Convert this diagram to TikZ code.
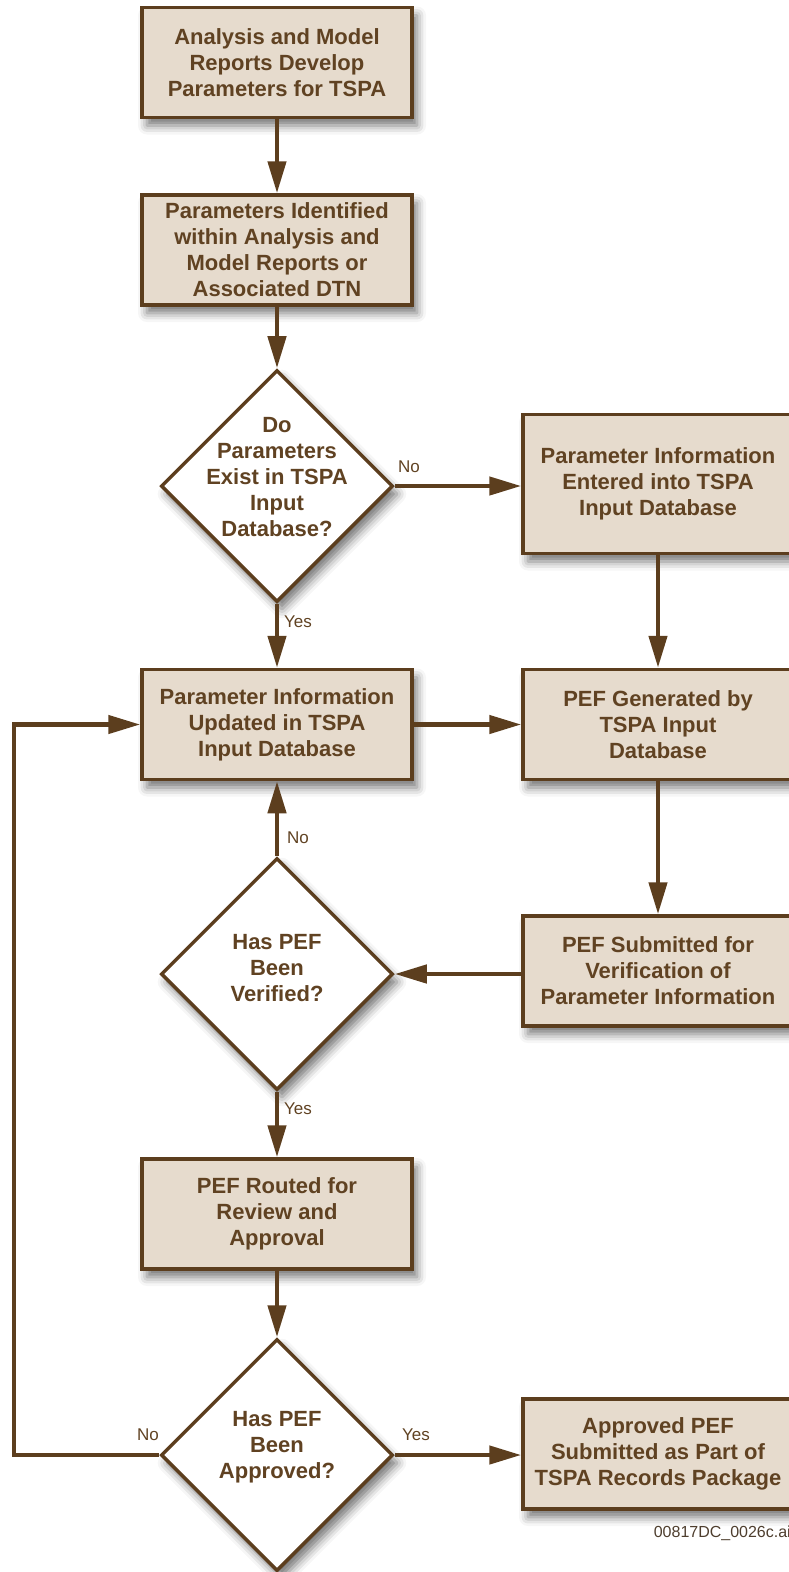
\documentclass[tikz,border=0pt]{standalone}
\usepackage{fontspec}
\setmainfont{Liberation Sans}
\usetikzlibrary{arrows.meta,shapes.geometric,shadows.blur}

\definecolor{brn}{RGB}{92,62,30}
\definecolor{txt}{RGB}{96,66,34}
\definecolor{boxfill}{RGB}{230,219,205}
\definecolor{footc}{RGB}{78,62,46}

\tikzset{
  shd/.style={blur shadow={shadow xshift=5pt, shadow yshift=-8pt,
      shadow blur radius=9pt, shadow opacity=55}},
  procbox/.style={draw=brn, line width=3.5pt, fill=boxfill,
      minimum width=270pt, minimum height=110pt, align=center, text=txt,
      font=\bfseries\fontsize{22}{26}\selectfont, inner sep=0pt, shd},
  decide/.style={diamond, aspect=1, draw=brn, line width=3.5pt, fill=white,
      minimum width=232pt, minimum height=232pt, inner sep=0pt, shd},
  dtext/.style={align=center, text=txt,
      font=\bfseries\fontsize{22}{26}\selectfont, inner sep=0pt},
  flow/.style={draw=brn, line width=4.5pt, -{Triangle[length=32pt,width=18pt]}},
  tag/.style={text=txt, font=\fontsize{17}{20}\selectfont, inner sep=0pt},
  foot/.style={text=footc, font=\fontsize{16}{19}\selectfont, inner sep=0pt},
}

\begin{document}
\begin{tikzpicture}[x=1pt,y=-1pt]
\useasboundingbox (0,0) rectangle (789,1572);

% left column
\node[procbox] (a) at (277,62.5) {Analysis and Model\\Reports Develop\\Parameters for TSPA};
\node[procbox] (b) at (277,250) {Parameters Identified\\within Analysis and\\Model Reports or\\Associated DTN};
\node[decide] (d1) at (277,486) {};
\node[dtext] (d1t) at ([yshift=9pt]d1.center) {Do\\Parameters\\Exist in TSPA\\Input\\Database?};
\node[procbox] (u) at (277,724.5) {Parameter Information\\Updated in TSPA\\Input Database};
\node[decide] (d2) at (277,974) {};
\node[dtext] (d2t) at ([yshift=6pt]d2.center) {Has PEF\\Been\\Verified?};
\node[procbox] (r) at (277,1214) {PEF Routed for\\Review and\\Approval};
\node[decide] (d3) at (277,1455) {};
\node[dtext] (d3t) at ([yshift=8pt]d3.center) {Has PEF\\Been\\Approved?};

% right column
\node[procbox, minimum height=139pt] (e) at (658,484) {Parameter Information\\Entered into TSPA\\Input Database};
\node[procbox] (g) at (658,724.5) {PEF Generated by\\TSPA Input\\Database};
\node[procbox] (s) at (658,971) {PEF Submitted for\\Verification of\\Parameter Information};
\node[procbox] (p) at (658,1454) {Approved PEF\\Submitted as Part of\\TSPA Records Package};

% connectors
\draw[flow] (a) -- (b);
\draw[flow] (b) -- (d1);
\draw[flow] (d1.east) -- (d1.east -| e.west);
\draw[flow] (d1) -- (u);
\draw[flow] (e) -- (g);
\draw[flow] (u.east) -- (g.west);
\draw[flow] (g) -- (s);
\draw[flow] (s.west |- d2.east) -- (d2.east);
\draw[flow] (d2) -- (u);
\draw[flow] (d2) -- (r);
\draw[flow] (r) -- (d3);
\draw[flow] (d3.east) -- (d3.east -| p.west);
\coordinate (lp) at (14,1455);
\draw[flow] (d3.west) -- (lp) |- (u.west);

% branch labels
\node[tag, anchor=west] (no1) at (398,467) {No};
\node[tag, anchor=west] (yes1) at (284,622) {Yes};
\node[tag, anchor=west] (no2) at (287,838) {No};
\node[tag, anchor=west] (yes2) at (284,1109) {Yes};
\node[tag, anchor=east] (no3) at (159,1435) {No};
\node[tag, anchor=west] (yes3) at (402,1435) {Yes};

% file reference
\node[foot, anchor=base east] (fname) at (791,1537) {00817DC\_0026c.ai};
\end{tikzpicture}
\end{document}
